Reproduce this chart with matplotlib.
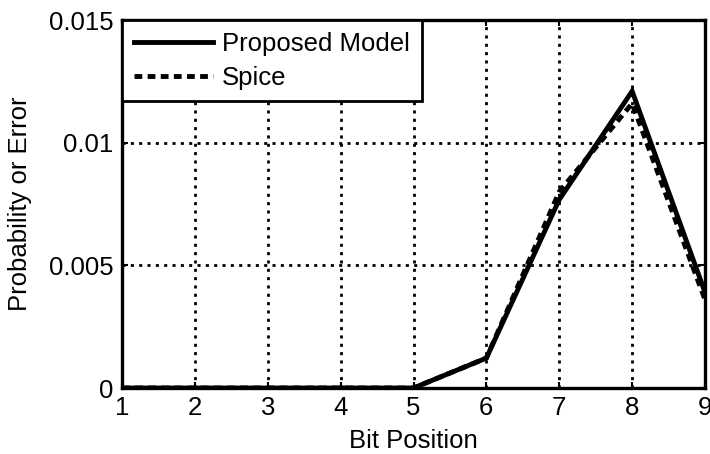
import matplotlib
matplotlib.use("Agg")
import matplotlib.pyplot as plt

plt.rcParams['font.family'] = ['Liberation Sans', 'DejaVu Sans']

bit_position = [1, 2, 3, 4, 5, 6, 7, 8, 9]
proposed = [0, 0, 0, 0, 0, 0.00122, 0.00768, 0.0121, 0.0039]
spice = [0, 0, 0, 0, 0, 0.00122, 0.0080, 0.0116, 0.0036]
yticks = [0, 0.005, 0.01, 0.015]
ytick_labels = ['0', '0.005', '0.01', '0.015']

FS = 18.5

fig = plt.figure(figsize=(7.1, 4.54), dpi=100)
ax = fig.add_axes([122/710, 1-388/454, (705-122)/710, (388-20)/454])

ax.plot(bit_position, proposed, color='black', lw=3.5, label='Proposed Model', solid_joinstyle='miter')
ax.plot(bit_position, spice, color='black', lw=3.5, linestyle=(0, (1.6, 1.1)), label='Spice')

ax.set_xlim(1, 9)
ax.set_ylim(0, 0.015)
ax.set_xticks(bit_position)
ax.set_yticks(yticks)
ax.set_yticklabels(ytick_labels)
ax.tick_params(direction='in', length=4, width=1.5, labelsize=FS, pad=6, top=True, right=True, colors='black')
ax.grid(True, color='black', lw=2.0, linestyle=(0, (1.1, 1.9)))
for s in ax.spines.values():
    s.set_linewidth(2.4)
    s.set_color('black')

ax.set_xlabel('Bit Position', fontsize=FS, labelpad=6)
ax.set_ylabel('Probability or Error', fontsize=FS, labelpad=12)

leg = ax.legend(loc='upper left', fontsize=FS, frameon=True, fancybox=False, framealpha=1,
                edgecolor='black', borderaxespad=0, handlelength=3.1, handletextpad=0.35,
                labelspacing=0.4, borderpad=0.45)
leg.get_frame().set_linewidth(2.0)

fig.savefig('out.png', dpi=100)
